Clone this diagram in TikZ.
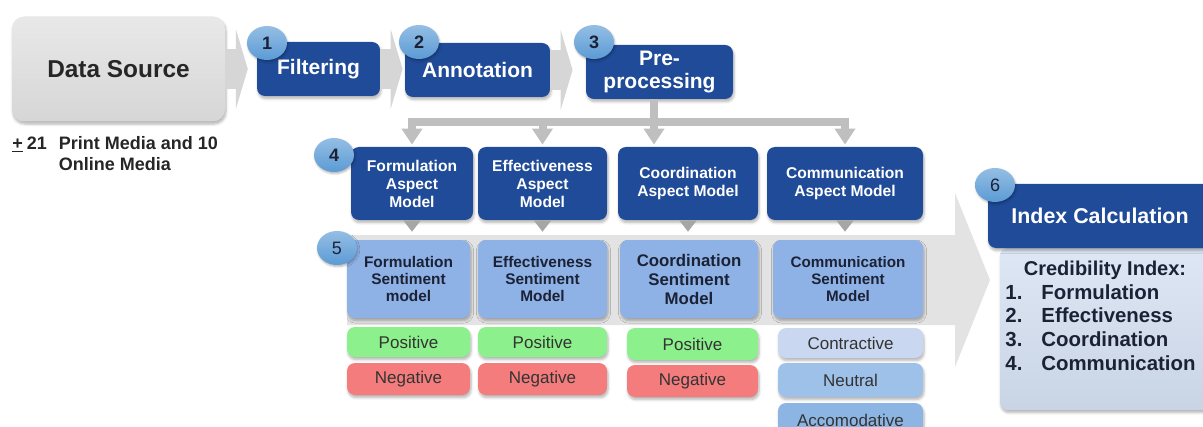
\documentclass[tikz,border=0pt]{standalone}
\usepackage{fontspec}
\setmainfont{Liberation Sans}
\usepackage{xcolor}
\definecolor{dnxanhdam}{HTML}{1F4B98}
\definecolor{dnxanhvua}{HTML}{8EB2E6}
\definecolor{dnnut}{HTML}{5B9BD5}
\definecolor{dnxam}{HTML}{D6D6D6}
\definecolor{dnxamnhat}{HTML}{E3E3E3}
\definecolor{dnxamdam}{HTML}{BFBFBF}
\definecolor{dnxamtoi}{HTML}{A6A6A6}
\definecolor{dnluc}{HTML}{8CF08C}
\definecolor{dnhong}{HTML}{F47C7C}
\definecolor{dnlam}{HTML}{C9D8F0}
\definecolor{dnlamvua}{HTML}{9EC1EA}
\definecolor{dnlamdam}{HTML}{8DB5E3}
\definecolor{dnchu}{HTML}{1C2236}
\definecolor{dnnen}{HTML}{D3DFF1}
\def\mauhop{dnxanhdam}
\def\mauchu{dnchu}
\usepackage{tikz}
\usetikzlibrary{arrows.meta,shapes.geometric,shadows,shadows.blur,calc,positioning}

\begin{document}
\begin{tikzpicture}[x=0.5pt,y=-0.5pt,font=\bfseries,text=\mauchu,
	hop/.style={rounded corners=4pt,inner sep=0pt,align=center,blur shadow={shadow xshift=0.5pt,shadow yshift=-1.3pt,shadow opacity=30,shadow blur radius=1.3pt,shadow blur steps=5}},
	buoc/.style={hop,fill=\mauhop,text=white,font=\fontsize{10.5}{11.5}\selectfont\bfseries},
	nut/.style={ellipse,minimum width=20pt,minimum height=17pt,inner sep=0pt,top color=dnnut!65!white,bottom color=dnnut,text=\mauchu,blur shadow={shadow xshift=0.4pt,shadow yshift=-0.8pt,shadow opacity=30,shadow blur radius=1pt}},
	muiten/.style={draw=dnxam,line width=20pt,-{Triangle[width=40pt,length=6pt]}},
	nhanh/.style={draw=dnxamdam,line width=4pt},
	]
	\useasboundingbox (0,0) rectangle (1203,427);
	\clip (0,0) rectangle (1203,427);
	%%%Mũi tên nền lớn
	\path[fill=dnxamnhat] (347,235) -- (955,235) -- (955,193) -- (990,280) -- (955,367) -- (955,325) -- (347,325) -- cycle;
	%%%Hàng trên
	\node[hop,rounded corners=6pt,top color=dnxam!55!white,bottom color=dnxam,text=black!85,minimum width=106.5pt,minimum height=52.5pt,font=\fontsize{12.2}{14}\selectfont\bfseries] (nguon) at (118.5,69) {Data Source};
	\node[anchor=north west,inner sep=0pt,text=black!85,font=\fontsize{9}{10.5}\selectfont\bfseries] (soluong) at (12,134) {\begin{tabular}{@{}l@{\hspace{6pt}}l}\underline{+}\hspace{2pt}21 & Print Media and 10\\ & Online Media\end{tabular}};
	\node[buoc,minimum width=61.5pt,minimum height=27pt] (loc) at (318.5,69) {Filtering};
	\node[buoc,minimum width=72.5pt,minimum height=27pt] (chuthich) at (477.5,70) {Annotation};
	\node[buoc,minimum width=73.5pt,minimum height=27pt] (tienxl) at (659.5,72) {Pre-\\processing};
	%%%Mũi tên giữa các bước
	\draw[muiten,shorten >=4.4pt] (nguon.east) -- (nguon.east -| loc.west);
	\draw[muiten,shorten >=1pt] (loc.east) -- (loc.east -| chuthich.west);
	\draw[muiten,shorten >=6.5pt] (chuthich.east) -- (chuthich.east -| tienxl.west);
	%%%Các mô hình khía cạnh
	\foreach \t/\x/\w [count=\i] in {{Formulation\\Aspect\\Model}/412/61,{Effectiveness\\Aspect\\Model}/542.5/64.5,{Coordination\\Aspect Model}/688/70,{Communication\\Aspect Model}/845/78}{%
		\node[hop,fill=\mauhop,text=white,font=\fontsize{7.8}{9}\selectfont\bfseries,minimum width=\w pt,minimum height=36.5pt] (kc-\i) at (\x,183.5) {\t};
	}
	%%%Nhánh tỏa xuống
	\coordinate (re) at (654,122);
	\draw[nhanh] (re |- tienxl.south) -- (re);
	\foreach \i in {1,2,4}{%
		\draw[nhanh,-{Triangle[width=10pt,length=8pt]},shorten >=1pt] (re) -| (kc-\i.north);
	}
	\draw[nhanh,-{Triangle[width=10pt,length=8pt]},shorten >=1pt] (re) -- (re |- kc-3.north);
	%%%Các mô hình cảm xúc
	\foreach \t/\x/\w/\c/\s [count=\i] in {{Formulation\\Sentiment\\model}/408.5/61.5/7.7/8.6,{Effectiveness\\Sentiment\\Model}/542.5/64.5/7.7/8.6,{Coordination\\Sentiment\\Model}/689/69/8.4/9.5,{Communication\\Sentiment\\Model}/848/75/7.6/8.6}{%
		\node[hop,fill=dnxanhvua,font=\fontsize{\c}{\s}\selectfont\bfseries,minimum width=\w pt,minimum height=39pt] (cx-\i) at (\x,279) {\t};
	}
	%%%Tam giác nối
	\foreach \i in {1,...,4}{%
		\draw[draw=dnxamtoi,line width=0.1pt,-{Triangle[width=8.5pt,length=5.5pt]},shorten >=4pt] (kc-\i.south) -- (kc-\i.south |- cx-\i.north);
	}
	%%%Các nhãn kết quả
	\foreach \t/\x/\y/\w/\h/\m [count=\i] in {Positive/408.5/342/61.5/15/dnluc,Negative/408.5/379/61.5/16/dnhong,Positive/542.5/342/64.5/15/dnluc,Negative/542.5/379/64.5/16/dnhong,Positive/692.5/344/65.5/16/dnluc,Negative/692.5/381/65.5/16/dnhong,Contractive/850.5/343/72.5/15/dnlam,Neutral/850.5/380/72.5/17/dnlamvua,Accomodative/850.5/420/72.5/17/dnlamdam}{%
		\node[hop,fill=\m,text=black!80,font=\fontsize{8.5}{10}\selectfont,minimum width=\w pt,minimum height=\h pt] (nhan-\i) at (\x,\y) {\t};
	}
	%%%Khối tính chỉ số
	\node[hop,top color=dnnen!75!white,bottom color=dnnen!95!black,minimum width=106pt,minimum height=81pt] (noidung) at (1106,329) {};
	\node[hop,fill=\mauhop,text=white,font=\fontsize{10.7}{12}\selectfont\bfseries,minimum width=112pt,minimum height=32pt] (chiso) at (1100,216) {Index Calculation};
	\node[anchor=base,inner sep=0pt,font=\fontsize{10}{12}\selectfont\bfseries] (tieude) at (1105,275) {Credibility Index:};
	\foreach \t [count=\i] in {Formulation,Effectiveness,Coordination,Communication}{%
		\node[anchor=base west,inner sep=0pt,font=\fontsize{10.2}{12}\selectfont\bfseries] (so-\i) at (1005,{275.3+23.7*\i}) {\i.};
		\node[anchor=base west,inner sep=0pt,font=\fontsize{10.2}{12}\selectfont\bfseries] (muc-\i) at (1041,{275.3+23.7*\i}) {\t};
	}
	%%%Các số thứ tự
	\foreach \n/\x/\y/\f in {1/267/43/\bfseries,2/419/42/\bfseries,3/594/42/\bfseries,4/334/155/\bfseries,5/337/248/\mdseries,6/995/185/\mdseries}{%
		\node[nut,font=\fontsize{9}{9}\selectfont\f] (nut-\n) at (\x,\y) {\n};
	}
\end{tikzpicture}
\end{document}
